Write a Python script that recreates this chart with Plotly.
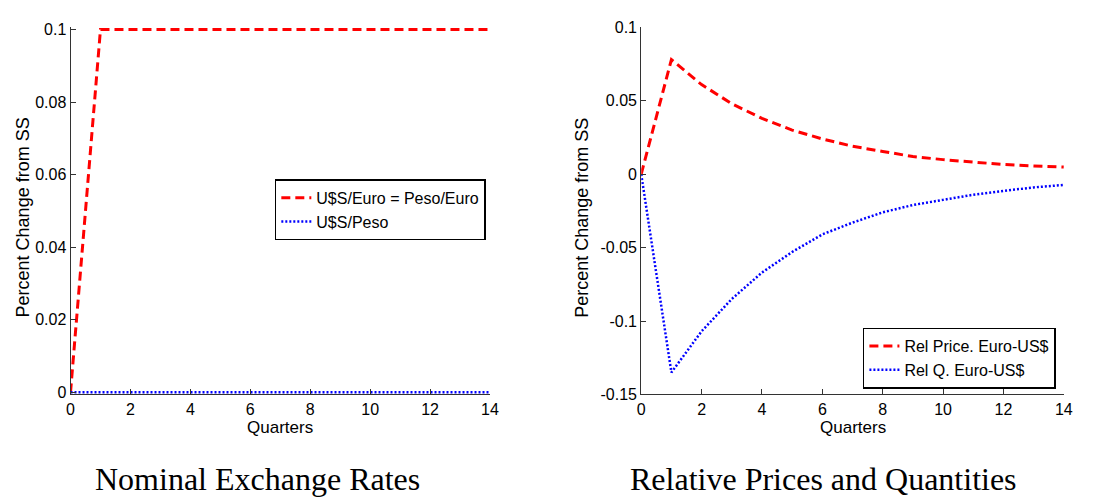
import plotly.graph_objects as go

quarters = list(range(0, 15))
# Left panel: nominal exchange rates
usd_euro = [0, 0.1, 0.1, 0.1, 0.1, 0.1, 0.1, 0.1, 0.1, 0.1, 0.1, 0.1, 0.1, 0.1, 0.1]
usd_peso = [0] * 15
# Right panel: relative prices and quantities
rel_price = [0, 0.078, 0.061, 0.048, 0.038, 0.030, 0.024, 0.019, 0.0155, 0.012, 0.0099, 0.008, 0.0066, 0.0056, 0.0048]
rel_q = [0, -0.135, -0.107, -0.085, -0.067, -0.053, -0.041, -0.033, -0.026, -0.021, -0.0175, -0.014, -0.0114, -0.009, -0.0073]

names_left = ["U$S/Euro = Peso/Euro", "U$S/Peso"]
names_right = ["Rel Price. Euro-US$", "Rel Q. Euro-US$"]
titles = ["Nominal Exchange Rates", "Relative Prices and Quantities"]
ytitle = "Percent Change from SS"
xtitle = "Quarters"

W, H = 1119, 502
SANS = "Liberation Sans, Arial, sans-serif"
SERIF = "Liberation Serif, Times New Roman, serif"

fig = go.Figure()
red = dict(color="#ff0000", width=3, dash="9px,5px")
blue = dict(color="#0000ff", width=2.5, dash="2px,2px")

fig.add_trace(go.Scatter(x=quarters, y=usd_euro, mode="lines", line=red, name=names_left[0],
                         xaxis="x", yaxis="y", legend="legend"))
fig.add_trace(go.Scatter(x=quarters, y=usd_peso, mode="lines", line=blue, name=names_left[1],
                         xaxis="x", yaxis="y", legend="legend"))
fig.add_trace(go.Scatter(x=quarters, y=rel_price, mode="lines", line=red, name=names_right[0],
                         xaxis="x2", yaxis="y2", legend="legend2"))
fig.add_trace(go.Scatter(x=quarters, y=rel_q, mode="lines", line=blue, name=names_right[1],
                         xaxis="x2", yaxis="y2", legend="legend2"))

axis_common = dict(showgrid=False, zeroline=False, showline=True, linecolor="#333333", linewidth=1,
                   ticks="inside", ticklen=5, tickcolor="#333333", mirror=False,
                   tickfont=dict(family=SANS, size=16, color="#000000"))

yb = 1 - 400 / H
yt = 1 - 20 / H
fig.update_layout(
    width=W, height=H, margin=dict(l=0, r=0, t=0, b=0),
    paper_bgcolor="white", plot_bgcolor="white",
    xaxis=dict(domain=[67.3 / W, 491.7 / W], range=[0, 14], tickvals=list(range(0, 15, 2)),
               anchor="y", **axis_common),
    yaxis=dict(domain=[yb, yt], range=[-0.0006, 0.1006], tickvals=[0, 0.02, 0.04, 0.06, 0.08, 0.1],
               ticktext=["0", "0.02", "0.04", "0.06", "0.08", "0.1"], anchor="x", **axis_common),
    xaxis2=dict(domain=[644.7 / W, 1072.3 / W], range=[0, 14], tickvals=list(range(0, 15, 2)),
                anchor="y2", **axis_common),
    yaxis2=dict(domain=[yb, yt], range=[-0.15, 0.1], tickvals=[-0.15, -0.1, -0.05, 0, 0.05, 0.1],
                ticktext=["-0.15", "-0.1", "-0.05", "0", "0.05", "0.1"], anchor="x2", **axis_common),
    legend=dict(x=274 / W, y=1 - 209 / H, xanchor="left", yanchor="middle", bgcolor="white",
                bordercolor="#000000", borderwidth=1.5, font=dict(family=SANS, size=16, color="#000"),
                itemwidth=30, tracegroupgap=0),
    legend2=dict(x=869 / W, y=1 - 394 / H, xanchor="left", yanchor="bottom", bgcolor="white",
                 bordercolor="#000000", borderwidth=1.5, font=dict(family=SANS, size=16, color="#000"),
                 itemwidth=30, tracegroupgap=0),
    showlegend=True,
)

ann = []
for cx, t in [(256, titles[0]), (829, titles[1])]:
    ann.append(dict(x=cx / W, y=1 - 487 / H, xref="paper", yref="paper", text=t, showarrow=False,
                    xanchor="center", yanchor="middle", font=dict(family=SERIF, size=32, color="#000")))
for cx in [(67.3 + 491.7) / 2, (644.7 + 1072.3) / 2]:
    ann.append(dict(x=cx / W, y=1 - 434 / H, xref="paper", yref="paper", text=xtitle, showarrow=False,
                    xanchor="center", yanchor="middle", font=dict(family=SANS, size=17, color="#000")))
for cx in [19, 584]:
    ann.append(dict(x=cx / W, y=1 - 217 / H, xref="paper", yref="paper", text=ytitle, showarrow=False,
                    textangle=-90, xanchor="center", yanchor="middle",
                    font=dict(family=SANS, size=18, color="#000")))
fig.update_layout(annotations=ann)

fig.write_html("out.html")
